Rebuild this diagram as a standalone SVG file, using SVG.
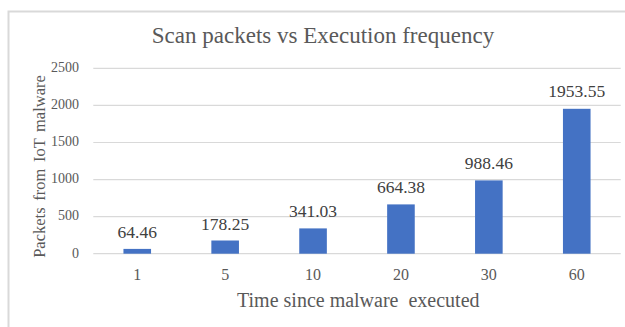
<svg xmlns="http://www.w3.org/2000/svg" width="625" height="327" viewBox="0 0 625 327" font-family="'Liberation Serif', 'Times New Roman', 'DejaVu Serif', serif">
<style>
text{font-family:'Liberation Serif','Times New Roman','DejaVu Serif',serif}
.grid{stroke:#d9d9d9;stroke-width:1.2}
.bar{fill:#4472c4}
.tick{font-size:14px;fill:#595959;text-anchor:end}
.cat{font-size:16px;fill:#595959;text-anchor:middle}
.val{font-size:17.5px;fill:#404040;text-anchor:middle}
</style>
<rect width="625" height="327" fill="#ffffff"/>
<path d="M8.5 330 V11.5 H630" fill="none" stroke="#d9d9d9" stroke-width="2"/>
<text x="323" y="43.3" font-size="23" fill="#595959" text-anchor="middle">Scan packets vs Execution frequency</text>
<g id="gridlines">
<line class="grid" x1="93.3" y1="68.3" x2="620.7" y2="68.3"/>
<line class="grid" x1="93.3" y1="105.4" x2="620.7" y2="105.4"/>
<line class="grid" x1="93.3" y1="142.5" x2="620.7" y2="142.5"/>
<line class="grid" x1="93.3" y1="179.6" x2="620.7" y2="179.6"/>
<line class="grid" x1="93.3" y1="216.6" x2="620.7" y2="216.6"/>
<line class="grid" x1="93.3" y1="253.7" x2="620.7" y2="253.7"/>
</g>
<g id="y-ticks">
<text class="tick" x="79" y="72">2500</text>
<text class="tick" x="79" y="109.1">2000</text>
<text class="tick" x="79" y="146.2">1500</text>
<text class="tick" x="79" y="183.3">1000</text>
<text class="tick" x="79" y="220.3">500</text>
<text class="tick" x="79" y="257.8">0</text>
</g>
<text transform="translate(44.5,166.5) rotate(-90)" font-size="16.5" fill="#595959" text-anchor="middle" word-spacing="2.5">Packets from IoT malware</text>
<g id="bar-1"><rect class="bar" x="123.45" y="248.9" width="27.6" height="4.8"/><text class="val" x="137.25" y="238">64.46</text><text class="cat" x="137.25" y="279.5">1</text></g>
<g id="bar-5"><rect class="bar" x="211.35" y="240.5" width="27.6" height="13.2"/><text class="val" x="225.15" y="229.5">178.25</text><text class="cat" x="225.15" y="279.5">5</text></g>
<g id="bar-10"><rect class="bar" x="299.25" y="228.4" width="27.6" height="25.3"/><text class="val" x="313.05" y="217.4">341.03</text><text class="cat" x="313.05" y="279.5">10</text></g>
<g id="bar-20"><rect class="bar" x="387.15" y="204.4" width="27.6" height="49.3"/><text class="val" x="400.95" y="193.4">664.38</text><text class="cat" x="400.95" y="279.5">20</text></g>
<g id="bar-30"><rect class="bar" x="475.05" y="180.4" width="27.6" height="73.3"/><text class="val" x="488.85" y="169.4">988.46</text><text class="cat" x="488.85" y="279.5">30</text></g>
<g id="bar-60"><rect class="bar" x="562.95" y="108.8" width="27.6" height="144.9"/><text class="val" x="576.75" y="97">1953.55</text><text class="cat" x="576.75" y="279.5">60</text></g>
<text x="358.3" y="307.3" font-size="20" fill="#595959" text-anchor="middle" xml:space="preserve">Time since malware  executed</text>
</svg>
